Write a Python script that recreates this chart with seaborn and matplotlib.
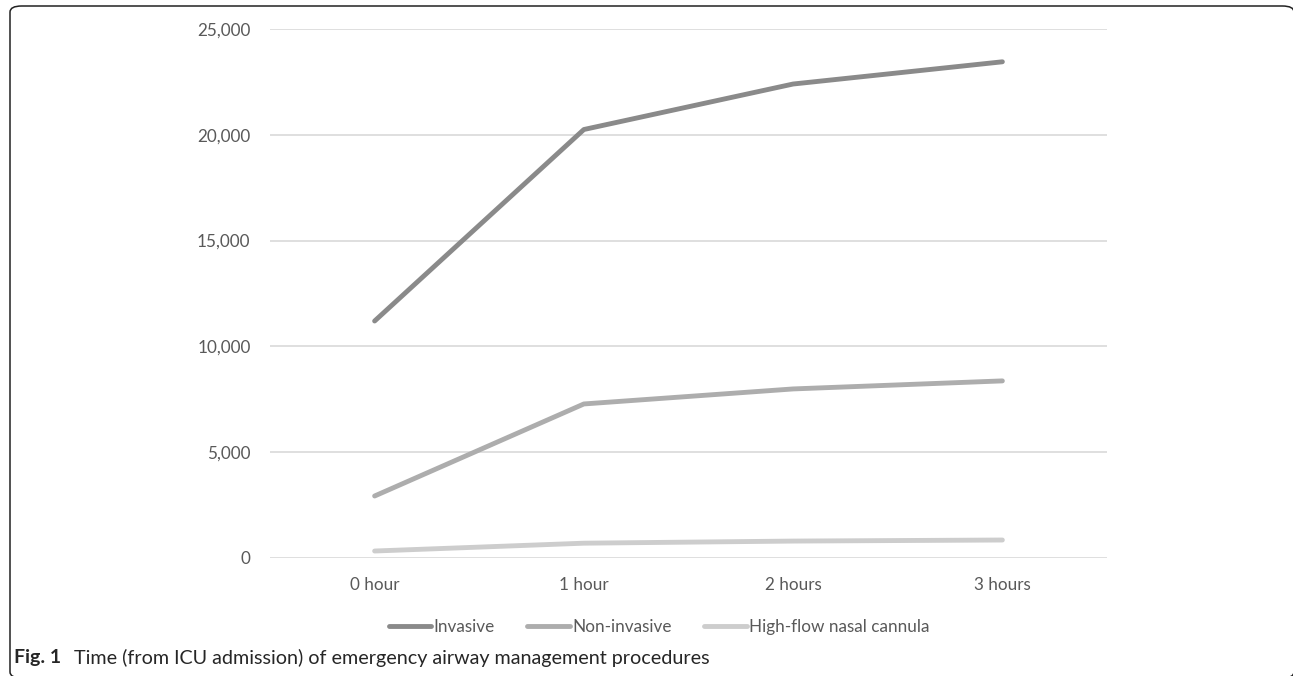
import seaborn as sns
import matplotlib.pyplot as plt
import pandas as pd
from matplotlib.patches import FancyBboxPatch
from matplotlib.lines import Line2D

hours = ["0 hour", "1 hour", "2 hours", "3 hours"]
invasive = [11200, 20250, 22400, 23450]
non_invasive = [2930, 7280, 7990, 8370]
hfnc = [330, 700, 800, 850]
series_names = ["Invasive", "Non-invasive", "High-flow nasal cannula"]
colors = ["#8a8a8a", "#adadad", "#cdcdcd"]
yticks = [0, 5000, 10000, 15000, 20000, 25000]

df = pd.DataFrame({
    "pos": list(range(len(hours))) * 3,
    "count": invasive + non_invasive + hfnc,
    "kind": [n for n in series_names for _ in hours],
})

sns.set_style("white")
plt.rcParams["font.family"] = ["Lato", "DejaVu Sans"]

fig = plt.figure(figsize=(12.93, 6.76), dpi=100)
ax = fig.add_axes([270 / 1293, 1 - 558 / 676, 837 / 1293, 529 / 676])

sns.lineplot(data=df, x="pos", y="count", hue="kind", palette=colors,
             hue_order=series_names, linewidth=3.5, legend=False, ax=ax,
             solid_capstyle="round", zorder=3)

ax.set_xlim(-0.5, 3.5)
ax.set_ylim(0, 25000)
ax.set_yticks(yticks)
ax.set_yticklabels([f"{v:,}" for v in yticks])
ax.set_xticks(range(len(hours)))
ax.set_xticklabels(hours)
ax.set_xlabel("")
ax.set_ylabel("")
ax.grid(axis="y", color="#d9d9d9", linewidth=1.2, zorder=0)
ax.set_axisbelow(True)
for s in ax.spines.values():
    s.set_visible(False)
ax.tick_params(axis="both", length=0, labelsize=12.3, labelcolor="#595959")
ax.tick_params(axis="y", pad=14)
ax.tick_params(axis="x", pad=14)

handles = [Line2D([0], [0], color=c, linewidth=3.5) for c in colors]
fig.legend(handles, series_names, loc="center", ncol=3,
           bbox_to_anchor=(659 / 1293, 1 - 627 / 676), frameon=False,
           fontsize=12.3, labelcolor="#595959", handlelength=2.5,
           handletextpad=0.12, columnspacing=1.9)

fig.text(14 / 1293, 1 - 658 / 676, "Fig. 1", fontsize=14, fontweight="bold",
         va="center", ha="left")
fig.text(74 / 1293, 1 - 658 / 676,
         "Time (from ICU admission) of emergency airway management procedures",
         fontsize=14.2, va="center", ha="left")

frame = FancyBboxPatch((10 / 1293, -2 / 676), 1284 / 1293, 672 / 676,
                       boxstyle="round,pad=0,rounding_size=0.009",
                       transform=fig.transFigure, fill=False,
                       edgecolor="#222222", linewidth=1.1)
fig.patches.append(frame)

fig.savefig("out.png", dpi=100)
